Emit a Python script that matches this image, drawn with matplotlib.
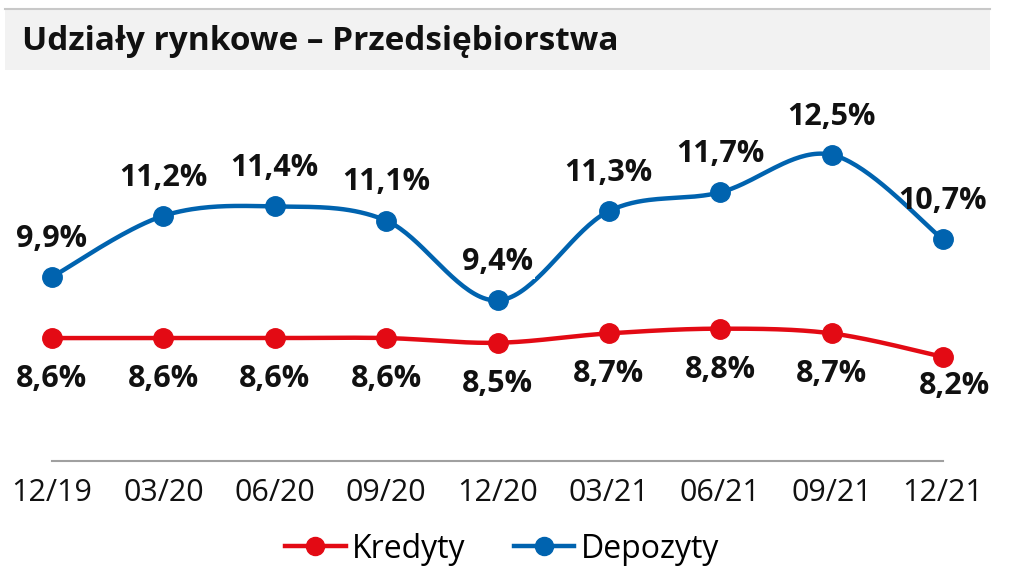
import numpy as np
import matplotlib
matplotlib.use("Agg")
import matplotlib.pyplot as plt
from matplotlib.patches import Rectangle
from matplotlib.lines import Line2D

categories = ["12/19", "03/20", "06/20", "09/20", "12/20", "03/21", "06/21", "09/21", "12/21"]
kredyty = [8.6, 8.6, 8.6, 8.6, 8.5, 8.7, 8.8, 8.7, 8.2]
depozyty = [9.9, 11.2, 11.4, 11.1, 9.4, 11.3, 11.7, 12.5, 10.7]
title = "Udziały rynkowe – Przedsiębiorstwa"

RED = "#E30A14"
BLUE = "#0063AF"
FONT = ["Open Sans", "DejaVu Sans"]
BFONT = ["Open Sans", "DejaVu Sans"]

def catmull(xs, ys, n=40):
    xs = np.asarray(xs, float); ys = np.asarray(ys, float)
    px = np.concatenate([[xs[0]], xs, [xs[-1]]])
    py = np.concatenate([[ys[0]], ys, [ys[-1]]])
    ox, oy = [], []
    t = np.linspace(0, 1, n)
    for i in range(1, len(px) - 2):
        p0, p1, p2, p3 = px[i-1], px[i], px[i+1], px[i+2]
        q0, q1, q2, q3 = py[i-1], py[i], py[i+1], py[i+2]
        m1x, m2x = (p2 - p0) / 2, (p3 - p1) / 2
        m1y, m2y = (q2 - q0) / 2, (q3 - q1) / 2
        h00 = 2*t**3 - 3*t**2 + 1; h10 = t**3 - 2*t**2 + t
        h01 = -2*t**3 + 3*t**2; h11 = t**3 - t**2
        ox.append(h00*p1 + h10*m1x + h01*p2 + h11*m2x)
        oy.append(h00*q1 + h10*m1y + h01*q2 + h11*m2y)
    return np.concatenate(ox), np.concatenate(oy)

W, H = 1012, 568
fig = plt.figure(figsize=(W/100, H/100), dpi=100)
fig.patch.set_facecolor("white")

# title bar
fig.patches.append(Rectangle((5/W, 1 - 70/H), 985/W, 61/H, transform=fig.transFigure,
                             facecolor="#F2F2F2", edgecolor="none", zorder=0))
fig.lines.append(Line2D([5/W, 990/W], [1 - 9/H, 1 - 9/H], transform=fig.transFigure,
                        color="#C8C8C8", lw=1.5))
fig.text(22/W, 1 - 41/H, title, fontsize=24, fontweight="bold", family=BFONT,
         va="center", ha="left", color="#111111")

ax = fig.add_axes([52/W, (H - 461)/H, 891/W, (461 - 80)/H])
x = np.arange(len(categories))
ax.set_xlim(0, len(categories) - 1)
ax.set_ylim(5.985, 14.09)

for vals, col in ((kredyty, RED), (depozyty, BLUE)):
    sx, sy = catmull(x, vals)
    ax.plot(sx, sy, color=col, lw=3.2, solid_capstyle="round", clip_on=False, zorder=3)
    ax.plot(x, vals, "o", color=col, ms=14, clip_on=False, zorder=4)

for i, v in enumerate(depozyty):
    bbox = dict(facecolor="white", edgecolor="none", pad=1) if i == 4 else None
    ax.annotate(f"{v:.1f}%".replace(".", ","), (x[i], v), xytext=(0, 27.5),
                textcoords="offset points", ha="center", va="center",
                fontsize=22, fontweight="bold", family=BFONT, color="#111111",
                bbox=bbox, zorder=5)

for i, v in enumerate(kredyty):
    off = (8, 21) if i == len(kredyty) - 1 else (0, 29.5)
    ax.annotate(f"{v:.1f}%".replace(".", ","), (x[i], v), xytext=(off[0], -off[1]),
                textcoords="offset points", ha="center", va="center",
                fontsize=22, fontweight="bold", family=BFONT, color="#111111", zorder=5)

for s in ("top", "right", "left"):
    ax.spines[s].set_visible(False)
ax.spines["bottom"].set_color("#A0A0A0")
ax.spines["bottom"].set_linewidth(1.5)
ax.set_yticks([])
ax.set_xticks(x)
ax.set_xticklabels(categories, fontsize=22, family=FONT, color="#111111")
ax.tick_params(axis="x", length=0, pad=12)
ax.patch.set_alpha(0)

handles = [Line2D([], [], color=RED, lw=3.2, marker="o", ms=13),
           Line2D([], [], color=BLUE, lw=3.2, marker="o", ms=13)]
fig.legend(handles, ["Kredyty", "Depozyty"], loc="center", bbox_to_anchor=(502/W, 1 - 549/H),
           ncol=2, frameon=False, prop={"family": FONT, "size": 23}, handlelength=1.9,
           columnspacing=1.5, handletextpad=0.2, borderpad=0.1)

fig.savefig("out.png", dpi=100)
